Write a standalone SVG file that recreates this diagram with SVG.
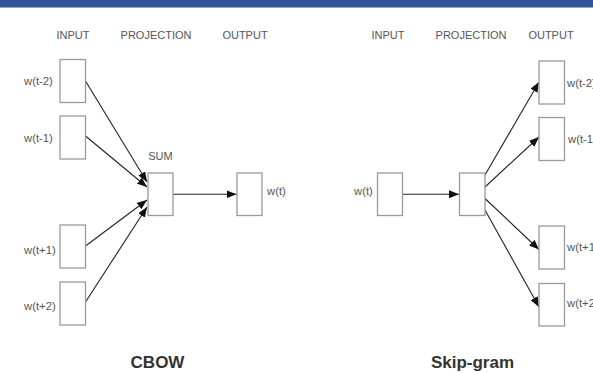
<svg xmlns="http://www.w3.org/2000/svg" width="593" height="373" viewBox="0 0 593 373">
<style>
.box{fill:#fff;stroke:#9a9a9a;stroke-width:1.3}
.hdr{font-family:"Liberation Sans",Arial,sans-serif;font-size:11px;fill:#555;text-anchor:middle}
.lbl{font-family:"Liberation Sans",Arial,sans-serif;font-size:11.3px;fill:#555}
.ttl{font-family:"Liberation Sans",Arial,sans-serif;font-size:17px;font-weight:bold;fill:#333;text-anchor:middle}
.edge{stroke:#222;stroke-width:1.1;fill:none;marker-end:url(#ah)}
</style>
<defs>
<marker id="ah" viewBox="0 0 10 8" refX="10" refY="4" markerWidth="10" markerHeight="8" markerUnits="userSpaceOnUse" orient="auto">
<path d="M0,0 L10,4 L0,8 Z" fill="#111"/>
</marker>
</defs>
<rect x="0" y="0" width="593" height="7.5" fill="#2f5597"/>

<text class="hdr" x="73" y="39">INPUT</text>
<text class="hdr" x="156" y="39">PROJECTION</text>
<text class="hdr" x="245" y="39">OUTPUT</text>
<text class="hdr" x="388" y="39">INPUT</text>
<text class="hdr" x="471" y="39">PROJECTION</text>
<text class="hdr" x="551" y="39">OUTPUT</text>

<g id="connectors">
<line class="edge" x1="85.5" y1="81" x2="147" y2="182"/>
<line class="edge" x1="85.5" y1="136" x2="147" y2="187"/>
<line class="edge" x1="85.5" y1="246" x2="147" y2="200"/>
<line class="edge" x1="85.5" y1="302" x2="147" y2="207"/>
<line class="edge" x1="173" y1="194.3" x2="236.5" y2="194.3"/>
<line class="edge" x1="402.5" y1="194.3" x2="459" y2="194.3"/>
<line class="edge" x1="485" y1="175" x2="539" y2="82"/>
<line class="edge" x1="485" y1="187" x2="539" y2="137"/>
<line class="edge" x1="485" y1="198.5" x2="539" y2="249.5"/>
<line class="edge" x1="485" y1="210" x2="539" y2="307"/>
</g>

<g id="cbow-in-t-2"><rect class="box" x="60" y="59.5" width="25.5" height="43"/><text class="lbl" x="24" y="85">w(t-2)</text></g>
<g id="cbow-in-t-1"><rect class="box" x="60" y="116" width="25.5" height="43"/><text class="lbl" x="24" y="142">w(t-1)</text></g>
<g id="cbow-in-t+1"><rect class="box" x="60" y="225" width="25.5" height="43"/><text class="lbl" x="24" y="254">w(t+1)</text></g>
<g id="cbow-in-t+2"><rect class="box" x="60" y="282" width="25.5" height="43"/><text class="lbl" x="24" y="310">w(t+2)</text></g>
<g id="cbow-sum"><rect class="box" x="148" y="173" width="25" height="42.5"/><text class="hdr" x="160.5" y="160">SUM</text></g>
<g id="cbow-out"><rect class="box" x="237" y="173" width="25" height="42.5"/><text class="lbl" x="267" y="195">w(t)</text></g>
<g id="cbow-title"><text class="ttl" x="157.5" y="368">CBOW</text></g>

<g id="sg-in"><rect class="box" x="377.5" y="173" width="25" height="42.5"/><text class="lbl" x="354" y="195">w(t)</text></g>
<g id="sg-proj"><rect class="box" x="459.5" y="173" width="25.5" height="42.5"/></g>
<g id="sg-out-t-2"><rect class="box" x="539" y="61" width="25.5" height="43"/><text class="lbl" x="567" y="87">w(t-2)</text></g>
<g id="sg-out-t-1"><rect class="box" x="539" y="117.5" width="25.5" height="43"/><text class="lbl" x="568" y="143">w(t-1)</text></g>
<g id="sg-out-t+1"><rect class="box" x="539" y="226" width="25.5" height="43"/><text class="lbl" x="567" y="251">w(t+1)</text></g>
<g id="sg-out-t+2"><rect class="box" x="539" y="283.5" width="25.5" height="42.5"/><text class="lbl" x="567" y="307">w(t+2)</text></g>
<g id="sg-title"><text class="ttl" x="472.5" y="368">Skip-gram</text></g>
</svg>
